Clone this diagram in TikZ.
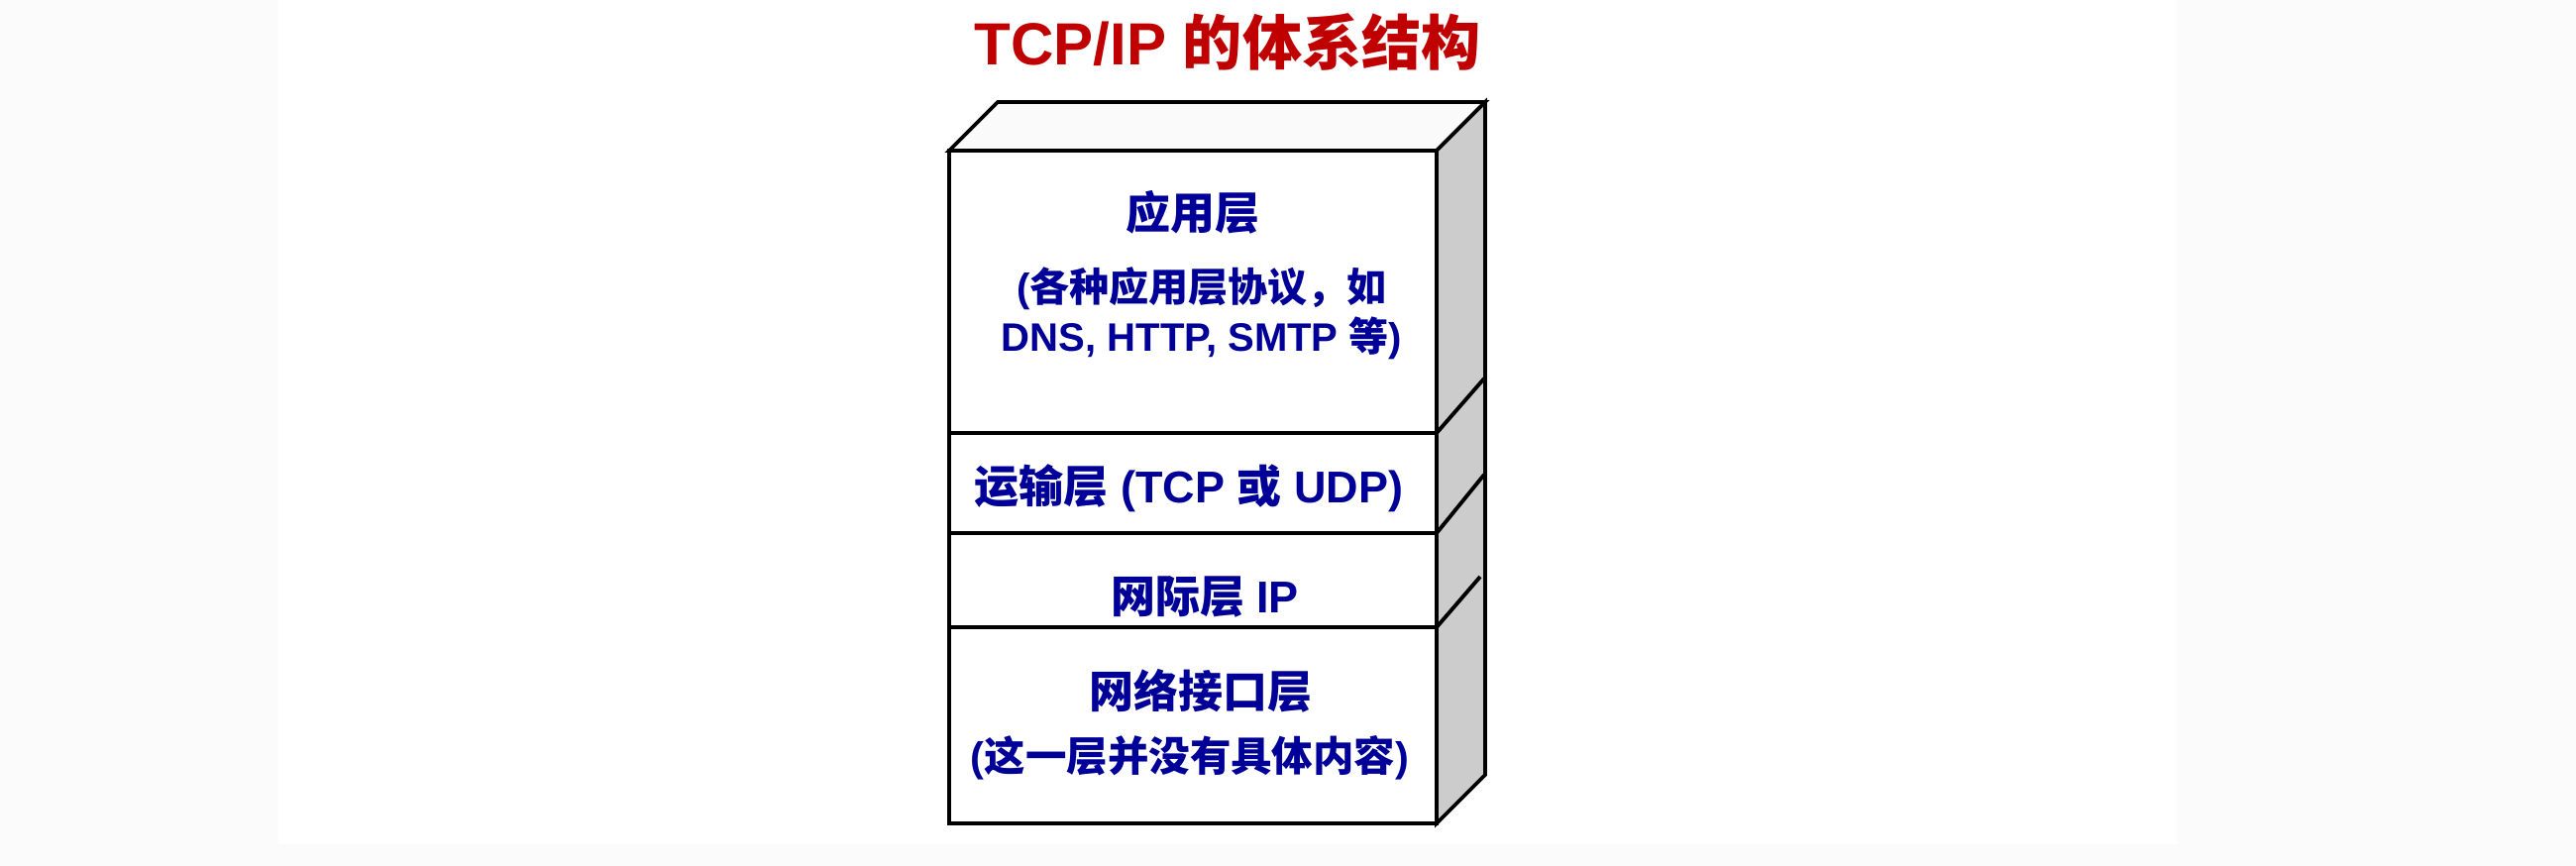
\documentclass[tikz,border=0pt]{standalone}
\usepackage{fontspec}
\setmainfont{Liberation Sans}
\newfontfamily\zhfont{Noto Sans CJK SC}
\newcommand{\zh}[1]{{\zhfont #1}}

\definecolor{titlered}{RGB}{192,0,0}
\definecolor{layerblue}{RGB}{0,0,153}
\definecolor{sidegray}{RGB}{204,204,204}
\definecolor{pagegray}{RGB}{251,251,251}

\tikzset{
	layertext/.style={anchor=base, inner sep=0pt, text=layerblue, font=\bfseries\fontsize{12.8}{15}\selectfont},
	notetext/.style={layertext, font=\bfseries\fontsize{11.4}{14}\selectfont},
	edge/.style={line width=1.1pt, line join=miter},
}

\begin{document}
\begin{tikzpicture}[x=0.1mm, y=-0.1mm]
	\useasboundingbox (0,0) rectangle (2600,874);
	\fill[pagegray] (0,0) rectangle (2600,874);
	\fill[white] (281,0) rectangle (2197,852);
	% the block: front, top and side faces
	\filldraw[edge, fill=white] (958,152) rectangle (1450,831);
	\filldraw[edge, fill=white!98!black] (958,152) -- (1007,103) -- (1499,103) -- (1450,152) -- cycle;
	\filldraw[edge, fill=sidegray] (1450,152) -- (1499,103) -- (1499,782) -- (1450,831) -- cycle;
	\draw[edge] (958,437) -- (1450,437) -- (1498,382);
	\draw[edge] (958,538) -- (1450,538) -- (1498,479);
	\draw[edge] (958,633) -- (1450,633) -- (1494,582);
	\node[anchor=base, inner sep=0pt, text=titlered, font=\bfseries\fontsize{17.1}{20}\selectfont] (title) at (1239,66) {TCP/IP \zh{的体系结构}};
	\node[layertext] (app) at (1204,232) {\zh{应用层}};
	\node[notetext] (appnote) at (1213,305) {(\zh{各种应用层协议，如}};
	\node[notetext] (appproto) at (1213,355) {DNS, HTTP, SMTP \zh{等})};
	\node[layertext] (trans) at (1200,508) {\zh{运输层} (TCP \zh{或} UDP)};
	\node[layertext] (inet) at (1216,618) {\zh{网际层} IP};
	\node[layertext] (link) at (1212,714) {\zh{网络接口层}};
	\node[notetext, font=\bfseries\fontsize{11.8}{14}\selectfont] (linknote) at (1201,778) {(\zh{这一层并没有具体内容})};
\end{tikzpicture}
\end{document}
